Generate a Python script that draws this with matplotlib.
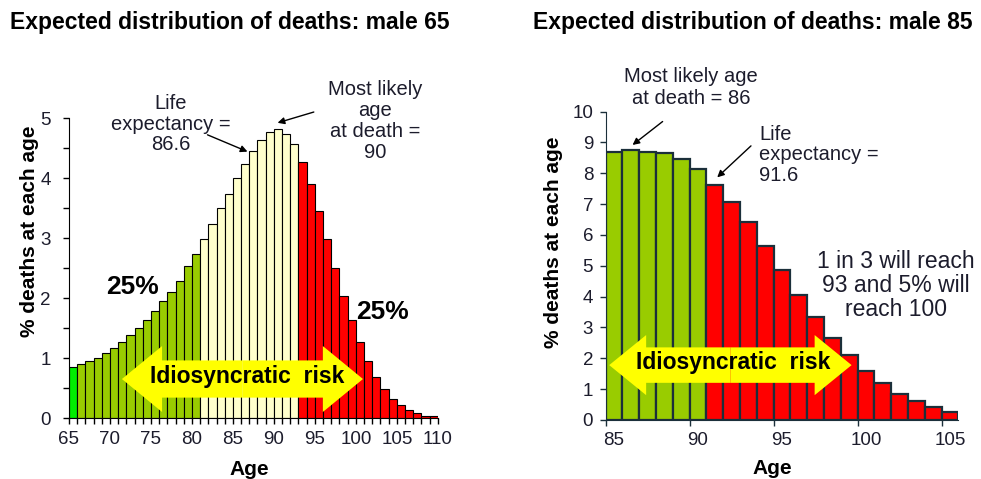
import matplotlib.pyplot as plt
from matplotlib.patches import FancyArrow

plt.rcParams['font.family'] = ['Liberation Sans', 'DejaVu Sans']

# male 65: % of deaths at each age
ages_65 = list(range(65, 110))
deaths_65 = [0.85, 0.90, 0.955, 1.0, 1.08, 1.17, 1.27, 1.38, 1.5, 1.64,
             1.79, 1.95, 2.1, 2.29, 2.53, 2.74, 2.98, 3.24, 3.5, 3.74,
             4.0, 4.24, 4.45, 4.64, 4.77, 4.82, 4.74, 4.56, 4.27, 3.9,
             3.45, 2.98, 2.5, 2.03, 1.63, 1.27, 0.95, 0.69, 0.48, 0.32,
             0.22, 0.14, 0.08, 0.04, 0.03]

# male 85: % of deaths at each age
ages_85 = list(range(85, 106))
deaths_85 = [8.70, 8.76, 8.70, 8.65, 8.45, 8.14, 7.63, 7.06, 6.41, 5.64,
             4.86, 4.04, 3.33, 2.67, 2.11, 1.59, 1.19, 0.83, 0.62, 0.41, 0.26]

# colour bands (first age of each band)
green_from_65, cream_from_65, red_from_65 = 66, 81, 93
red_from_85 = 91

TXT = '#1c1c2c'
EDGE85 = '#1b2f3a'


def colour_65(a):
    if a < green_from_65:
        return '#00ee00'
    if a < cream_from_65:
        return '#99cc00'
    if a < red_from_65:
        return '#ffffcc'
    return '#ff0000'


def double_arrow(ax, x0, x1, y, body, head_w, head_l):
    mid = (x0 + x1) / 2
    for dx in (x1 - mid, x0 - mid):
        ax.add_patch(FancyArrow(mid, y, dx, 0, width=body, head_width=head_w,
                                head_length=head_l, length_includes_head=True,
                                color='#ffff00', lw=0, zorder=3, clip_on=False))


def pointer(ax, start, tip):
    ax.annotate('', xy=tip, xytext=start, annotation_clip=False,
                arrowprops=dict(arrowstyle='-|>', color='black', lw=1,
                                shrinkA=0, shrinkB=0, mutation_scale=10))


fig = plt.figure(figsize=(9.81, 4.79), dpi=100)

# ---------------- left chart ----------------
ax1 = fig.add_axes([0.0703, 0.1273, 0.376, 0.6263])
ax1.bar(ages_65, deaths_65, width=1.0, align='edge',
        color=[colour_65(a) for a in ages_65], edgecolor='black', linewidth=0.8)
ax1.set_xlim(65, 110)
ax1.set_ylim(0, 5)
ax1.set_xticks(range(65, 111))
ax1.set_xticklabels([str(a) if a % 5 == 0 else '' for a in range(65, 111)])
ax1.set_yticks([i * 0.5 for i in range(11)])
ax1.set_yticklabels([str(i // 2) if i % 2 == 0 else '' for i in range(11)])
ax1.tick_params(direction='out', length=4, width=1, labelsize=13.5, colors='black',
                labelcolor=TXT)
ax1.tick_params(axis='x', pad=5)
ax1.tick_params(axis='y', pad=9)
for s in ('top', 'right'):
    ax1.spines[s].set_visible(False)
ax1.set_xlabel('Age', fontsize=15, fontweight='bold', va='center')
ax1.xaxis.set_label_coords(0.49, -0.173)
ax1.set_ylabel('% deaths at each age', fontsize=15, fontweight='bold', va='center')
ax1.yaxis.set_label_coords(-0.106, 0.623)

double_arrow(ax1, 71.46, 100.87, 0.65, 0.62, 1.1, 4.9)
ax1.text(86.75, 0.69, 'Idiosyncratic  risk', ha='center', va='center',
         fontsize=16.5, fontweight='bold', zorder=4)
ax1.text(72.8, 2.18, '25%', ha='center', va='center', fontsize=19, fontweight='bold')
ax1.text(103.2, 1.77, '25%', ha='center', va='center', fontsize=19, fontweight='bold')

ax1.text(77.4, 4.9, 'Life\nexpectancy =\n86.6', ha='center', va='center',
         fontsize=14.5, color=TXT, linespacing=1.12)
pointer(ax1, (81.9, 4.72), (86.78, 4.44))
ax1.text(102.3, 4.95, 'Most likely\nage\nat death =\n90', ha='center', va='center',
         fontsize=14.5, color=TXT, linespacing=1.12)
pointer(ax1, (94.87, 5.1), (90.45, 4.92))

fig.text(0.010, 0.954, 'Expected distribution of deaths: male 65', fontsize=16.5,
         fontweight='bold', ha='left', va='center')

# ---------------- right chart ----------------
ax2 = fig.add_axes([0.6174, 0.1232, 0.3596, 0.6437])
cols_85 = ['#99cc00' if a < red_from_85 else '#ff0000' for a in ages_85]
ax2.bar(ages_85, deaths_85, width=1.0, align='edge', color=cols_85,
        edgecolor=EDGE85, linewidth=1.6)
ax2.set_xlim(85, 106)
ax2.set_ylim(0, 10)
ax2.set_xticks(range(85, 106, 5))
ax2.set_xticklabels([])
ax2.set_xticks([a + 0.5 for a in range(85, 106, 5)], minor=True)
ax2.set_xticklabels([str(a) for a in range(85, 106, 5)], minor=True)
ax2.set_yticks(range(0, 11))
ax2.tick_params(direction='out', length=4, width=1, colors=EDGE85,
                labelsize=13.5, labelcolor=TXT, pad=5)
ax2.tick_params(axis='x', which='minor', length=0, labelsize=13.5, labelcolor=TXT, pad=9)
for s in ('top', 'right'):
    ax2.spines[s].set_visible(False)
for s in ('left', 'bottom'):
    ax2.spines[s].set_color(EDGE85)
ax2.set_xlabel('Age', fontsize=15, fontweight='bold', va='center')
ax2.xaxis.set_label_coords(0.471, -0.156)
ax2.set_ylabel('% deaths at each age', fontsize=15, fontweight='bold', va='center')
ax2.yaxis.set_label_coords(-0.149, 0.577)

double_arrow(ax2, 85.21, 99.64, 1.78, 1.15, 1.95, 2.2)
ax2.text(92.6, 1.85, 'Idiosyncratic  risk', ha='center', va='center',
         fontsize=16.5, fontweight='bold', zorder=4)

ax2.text(90.1, 10.78, 'Most likely age\nat death = 86', ha='center', va='center',
         fontsize=14.5, color=TXT, linespacing=1.2)
pointer(ax2, (88.39, 9.68), (86.6, 8.92))
ax2.text(94.14, 8.6, 'Life\nexpectancy =\n91.6', ha='left', va='center',
         fontsize=14.5, color=TXT, linespacing=1.12)
pointer(ax2, (93.65, 8.89), (91.64, 7.87))
ax2.text(102.3, 4.35, '1 in 3 will reach\n93 and 5% will\nreach 100', ha='center',
         va='center', fontsize=16.5, color=TXT, linespacing=1.05)

fig.text(0.543, 0.954, 'Expected distribution of deaths: male 85', fontsize=16.5,
         fontweight='bold', ha='left', va='center')

fig.savefig('out.png', dpi=100)
